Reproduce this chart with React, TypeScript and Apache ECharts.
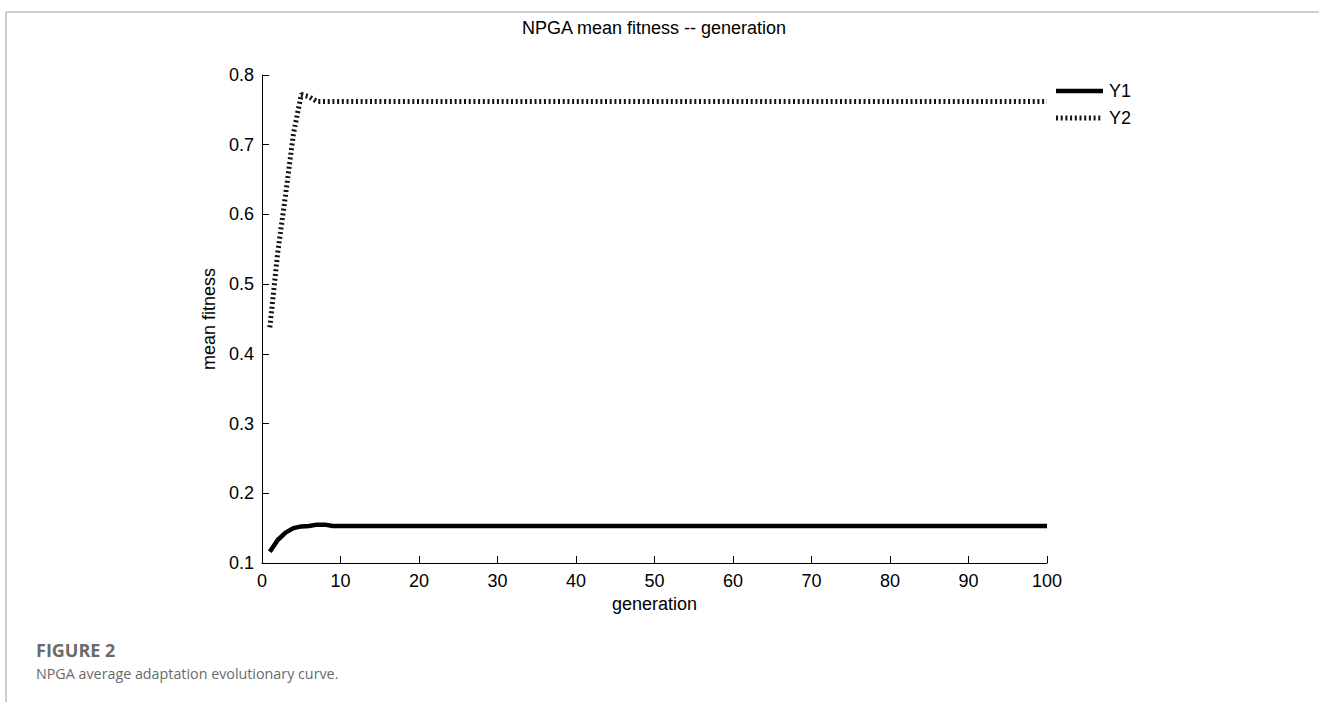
import React, { useEffect, useRef } from "react";
import * as echarts from "echarts";

const chartTitle = "NPGA mean fitness -- generation";
const xAxisName = "generation";
const yAxisName = "mean fitness";
const seriesNames = ["Y1", "Y2"];
const y1Generations = [1, 2, 3, 4, 5, 6, 7, 8, 9, 100];
const y1Values = [0.116, 0.133, 0.1435, 0.15, 0.1525, 0.153, 0.155, 0.155, 0.153, 0.153];
const y2Generations = [1, 2, 3, 4, 5, 6, 7, 100];
const y2Values = [0.438, 0.545, 0.628, 0.715, 0.772, 0.769, 0.762, 0.762];
const xTicks = { min: 0, max: 100, interval: 10 };
const yTicks = { min: 0.1, max: 0.8, interval: 0.1 };
const captionHead = "FIGURE 2";
const captionText = "NPGA average adaptation evolutionary curve.";

const FONT = "'Liberation Sans', Arial, Helvetica, sans-serif";
const DOTS = [2, 2.7];

export default function App() {
  const ref = useRef<HTMLDivElement>(null);
  useEffect(() => {
    if (!ref.current) return;
    const chart = echarts.init(ref.current, null, { renderer: "svg" });
    const y1Data = y1Generations.map((g, i) => [g, y1Values[i]]);
    const y2Data = y2Generations.map((g, i) => [g, y2Values[i]]);
    chart.setOption({
      animation: false,
      backgroundColor: "#ffffff",
      grid: { left: 262, right: 272, top: 75, bottom: 139, containLabel: false },
      xAxis: {
        type: "value",
        min: xTicks.min,
        max: xTicks.max,
        interval: xTicks.interval,
        name: xAxisName,
        nameLocation: "middle",
        nameGap: 28,
        nameTextStyle: { fontFamily: FONT, fontSize: 18, color: "#000" },
        axisLine: { show: true, onZero: false, lineStyle: { color: "#000", width: 1 } },
        axisTick: { show: true, inside: true, length: 7, lineStyle: { color: "#000", width: 1 } },
        axisLabel: { fontFamily: FONT, fontSize: 18, color: "#000", margin: 9, showMinLabel: true, showMaxLabel: true },
        splitLine: { show: false },
      },
      yAxis: {
        type: "value",
        min: yTicks.min,
        max: yTicks.max,
        interval: yTicks.interval,
        name: yAxisName,
        nameLocation: "middle",
        nameGap: 25,
        nameRotate: 90,
        nameTextStyle: { fontFamily: FONT, fontSize: 18, color: "#000" },
        axisLine: { show: true, onZero: false, lineStyle: { color: "#000", width: 1 } },
        axisTick: { show: true, inside: true, length: 7, lineStyle: { color: "#000", width: 1 } },
        axisLabel: {
          fontFamily: FONT,
          fontSize: 18,
          color: "#000",
          margin: 8,
          formatter: (v: number) => v.toFixed(1),
        },
        splitLine: { show: false },
      },
      series: [
        {
          name: seriesNames[0],
          type: "line",
          data: y1Data,
          symbol: "none",
          lineStyle: { color: "#000", width: 4.5, type: "solid" },
          z: 3,
        },
        {
          name: seriesNames[1],
          type: "line",
          data: y2Data,
          symbol: "none",
          lineStyle: { color: "#111", width: 5, type: DOTS },
          z: 2,
        },
      ],
      graphic: [
        { type: "line", shape: { x1: 6, y1: 12, x2: 1319, y2: 12 }, style: { stroke: "#bdbdbd", lineWidth: 1.5 } },
        { type: "line", shape: { x1: 6, y1: 12, x2: 6, y2: 702 }, style: { stroke: "#bdbdbd", lineWidth: 1.5 } },
        {
          type: "text",
          x: 654,
          y: 28,
          style: { text: chartTitle, font: `18px ${FONT}`, fill: "#000", align: "center", verticalAlign: "middle" },
        },
        { type: "line", shape: { x1: 1056, y1: 91, x2: 1103, y2: 91 }, style: { stroke: "#000", lineWidth: 4.5 } },
        {
          type: "text",
          x: 1109,
          y: 91,
          style: { text: seriesNames[0], font: `18px ${FONT}`, fill: "#000", align: "left", verticalAlign: "middle" },
        },
        {
          type: "line",
          shape: { x1: 1056, y1: 118, x2: 1103, y2: 118 },
          style: { stroke: "#111", lineWidth: 5, lineDash: DOTS },
        },
        {
          type: "text",
          x: 1109,
          y: 118,
          style: { text: seriesNames[1], font: `18px ${FONT}`, fill: "#000", align: "left", verticalAlign: "middle" },
        },
        {
          type: "text",
          x: 36,
          y: 650,
          style: { text: captionHead, font: `bold 18px 'Open Sans', sans-serif`, fill: "#6a6a6a", align: "left", verticalAlign: "middle" },
        },
        {
          type: "text",
          x: 36,
          y: 673,
          style: { text: captionText, font: `14.3px 'Open Sans', sans-serif`, fill: "#6a6a6a", align: "left", verticalAlign: "middle" },
        },
      ],
    });
    return () => chart.dispose();
  }, []);
  return (
    <div
      ref={ref}
      style={{ position: "absolute", left: 0, top: 0, width: 1319, height: 702, background: "#fff" }}
    />
  );
}
